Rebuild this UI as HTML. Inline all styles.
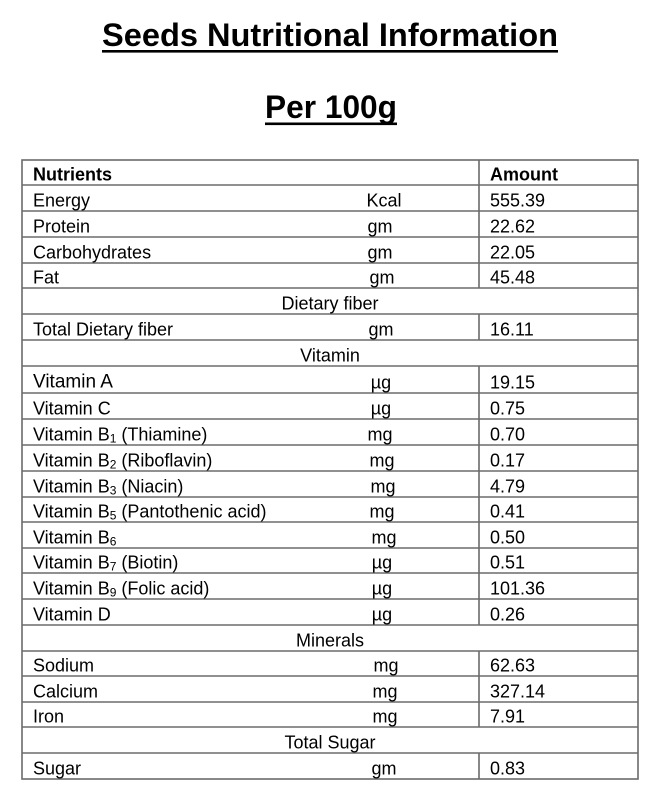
<!DOCTYPE html>
<html>
<head>
<meta charset="utf-8">
<style>
html,body{margin:0;padding:0;background:#fff;}
svg{display:block;}
text{font-family:"Liberation Sans",Arial,sans-serif;fill:#000;}
</style>
</head>
<body>
<svg width="661" height="800" viewBox="0 0 661 800" xmlns="http://www.w3.org/2000/svg">
<rect width="661" height="800" fill="#fff"/>
<!-- Titles -->
<text x="102" y="46" font-size="32" font-weight="bold" textLength="456" lengthAdjust="spacingAndGlyphs">Seeds Nutritional Information</text>
<rect x="102" y="50" width="456" height="2.6" fill="#000"/>
<text x="265" y="118" font-size="32" font-weight="bold" textLength="132" lengthAdjust="spacingAndGlyphs">Per 100g</text>
<rect x="265" y="122.5" width="132" height="2.6" fill="#000"/>

<!-- Table grid -->
<g stroke="#6b6b6b" stroke-width="1.6" fill="none">
<rect x="22" y="160" width="616" height="619"/>
<line x1="22" y1="185" x2="638" y2="185"/>
<line x1="22" y1="211" x2="638" y2="211"/>
<line x1="22" y1="237" x2="638" y2="237"/>
<line x1="22" y1="263" x2="638" y2="263"/>
<line x1="22" y1="288" x2="638" y2="288"/>
<line x1="22" y1="314" x2="638" y2="314"/>
<line x1="22" y1="340" x2="638" y2="340"/>
<line x1="22" y1="366" x2="638" y2="366"/>
<line x1="22" y1="393" x2="638" y2="393"/>
<line x1="22" y1="419" x2="638" y2="419"/>
<line x1="22" y1="445" x2="638" y2="445"/>
<line x1="22" y1="471" x2="638" y2="471"/>
<line x1="22" y1="497" x2="638" y2="497"/>
<line x1="22" y1="522" x2="638" y2="522"/>
<line x1="22" y1="548" x2="638" y2="548"/>
<line x1="22" y1="573" x2="638" y2="573"/>
<line x1="22" y1="599" x2="638" y2="599"/>
<line x1="22" y1="625" x2="638" y2="625"/>
<line x1="22" y1="651" x2="638" y2="651"/>
<line x1="22" y1="676" x2="638" y2="676"/>
<line x1="22" y1="702" x2="638" y2="702"/>
<line x1="22" y1="727" x2="638" y2="727"/>
<line x1="22" y1="753" x2="638" y2="753"/>
<!-- vertical divider segments -->
<line x1="479" y1="160" x2="479" y2="288"/>
<line x1="479" y1="314" x2="479" y2="340"/>
<line x1="479" y1="366" x2="479" y2="625"/>
<line x1="479" y1="651" x2="479" y2="727"/>
<line x1="479" y1="753" x2="479" y2="779"/>
</g>

<g font-size="18">
<!-- header -->
<text x="33" y="180.5" font-weight="bold">Nutrients</text>
<text x="490" y="180.5" font-weight="bold">Amount</text>

<text x="33" y="206.5">Energy</text>
<text x="384" y="206.5" text-anchor="middle">Kcal</text>
<text x="490" y="206.5">555.39</text>

<text x="33" y="232.5">Protein</text>
<text x="380" y="232.5" text-anchor="middle">gm</text>
<text x="490" y="232.5">22.62</text>

<text x="33" y="258.5">Carbohydrates</text>
<text x="380" y="258.5" text-anchor="middle">gm</text>
<text x="490" y="258.5">22.05</text>

<text x="33" y="283.5">Fat</text>
<text x="382" y="283.5" text-anchor="middle">gm</text>
<text x="490" y="283.5">45.48</text>

<text x="330" y="309.5" text-anchor="middle">Dietary fiber</text>

<text x="33" y="335.5">Total Dietary fiber</text>
<text x="381" y="335.5" text-anchor="middle">gm</text>
<text x="490" y="335.5">16.11</text>

<text x="330" y="361.5" text-anchor="middle">Vitamin</text>

<text x="33" y="387.5" font-size="19">Vitamin A</text>
<text x="381" y="388.5" text-anchor="middle">µg</text>
<text x="490" y="388.5">19.15</text>

<text x="33" y="414.5">Vitamin C</text>
<text x="381" y="414.5" text-anchor="middle">µg</text>
<text x="490" y="414.5">0.75</text>

<text x="33" y="440.5">Vitamin B<tspan font-size="12" dy="2">1</tspan><tspan dy="-2"> (Thiamine)</tspan></text>
<text x="380" y="440.5" text-anchor="middle">mg</text>
<text x="490" y="440.5">0.70</text>

<text x="33" y="466.5">Vitamin B<tspan font-size="12" dy="2">2</tspan><tspan dy="-2"> (Riboflavin)</tspan></text>
<text x="382" y="466.5" text-anchor="middle">mg</text>
<text x="490" y="466.5">0.17</text>

<text x="33" y="492.5">Vitamin B<tspan font-size="12" dy="2">3</tspan><tspan dy="-2"> (Niacin)</tspan></text>
<text x="383" y="492.5" text-anchor="middle">mg</text>
<text x="490" y="492.5">4.79</text>

<text x="33" y="517.5">Vitamin B<tspan font-size="12" dy="2">5</tspan><tspan dy="-2"> (Pantothenic acid)</tspan></text>
<text x="382" y="517.5" text-anchor="middle">mg</text>
<text x="490" y="517.5">0.41</text>

<text x="33" y="543.5">Vitamin B<tspan font-size="12" dy="2">6</tspan></text>
<text x="384" y="543.5" text-anchor="middle">mg</text>
<text x="490" y="543.5">0.50</text>

<text x="33" y="568.5">Vitamin B<tspan font-size="12" dy="2">7</tspan><tspan dy="-2"> (Biotin)</tspan></text>
<text x="382" y="568.5" text-anchor="middle">µg</text>
<text x="490" y="568.5">0.51</text>

<text x="33" y="594.5">Vitamin B<tspan font-size="12" dy="2">9</tspan><tspan dy="-2"> (Folic acid)</tspan></text>
<text x="382" y="594.5" text-anchor="middle">µg</text>
<text x="490" y="594.5">101.36</text>

<text x="33" y="620.5">Vitamin D</text>
<text x="382" y="620.5" text-anchor="middle">µg</text>
<text x="490" y="620.5">0.26</text>

<text x="330" y="646.5" text-anchor="middle">Minerals</text>

<text x="33" y="671.5">Sodium</text>
<text x="386" y="671.5" text-anchor="middle">mg</text>
<text x="490" y="671.5">62.63</text>

<text x="33" y="697.5">Calcium</text>
<text x="385" y="697.5" text-anchor="middle">mg</text>
<text x="490" y="697.5">327.14</text>

<text x="33" y="722.5">Iron</text>
<text x="385" y="722.5" text-anchor="middle">mg</text>
<text x="490" y="722.5">7.91</text>

<text x="330" y="748.5" text-anchor="middle">Total Sugar</text>

<text x="33" y="774.5">Sugar</text>
<text x="384" y="774.5" text-anchor="middle">gm</text>
<text x="490" y="774.5">0.83</text>
</g>
</svg>
</body>
</html>
